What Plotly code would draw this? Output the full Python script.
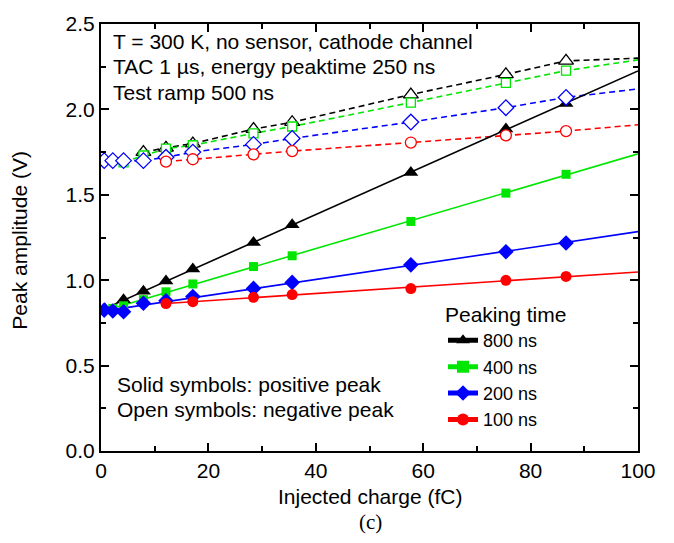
import numpy as np
import plotly.graph_objects as go

# ---------------- data ----------------
x_800 = [0.75, 4.2, 7.9, 12.1, 17.1, 28.4, 35.6, 57.7, 75.4, 86.6]
pos_800 = [0.83, 0.885, 0.935, 0.995, 1.065, 1.22, 1.325, 1.63, 1.885, 2.035]
xn_800 = [7.9, 12.1, 17.1, 28.4, 35.6, 57.7, 75.4, 86.6]
neg_800 = [1.75, 1.775, 1.80, 1.885, 1.925, 2.087, 2.205, 2.284]
neg_800_end = 2.30

x_400 = [2.2, 4.2, 7.9, 12.1, 17.1, 28.4, 35.6, 57.7, 75.4, 86.6]
pos_400 = [0.835, 0.85, 0.886, 0.932, 0.978, 1.08, 1.143, 1.344, 1.51, 1.62]
xn_400 = [4.2, 7.9, 12.1, 17.1, 28.4, 35.6, 57.7, 75.4, 86.6]
neg_400 = [1.69, 1.73, 1.77, 1.79, 1.86, 1.90, 2.04, 2.155, 2.227]
neg_400_end = 2.29

x_200 = [0.6, 2.2, 4.2, 7.9, 12.1, 17.1, 28.4, 35.6, 57.7, 75.4, 86.6]
pos_200 = [0.825, 0.82, 0.815, 0.865, 0.88, 0.905, 0.952, 0.987, 1.09, 1.167, 1.218]
xn_200 = x_200
neg_200 = [1.70, 1.70, 1.70, 1.70, 1.72, 1.75, 1.795, 1.83, 1.926, 2.01, 2.07]
neg_200_end = 2.12

x_100 = [12.1, 17.1, 28.4, 35.6, 57.7, 75.4, 86.6]
pos_100 = [0.863, 0.874, 0.90, 0.916, 0.951, 0.999, 1.022]
xn_100 = x_100
neg_100 = [1.694, 1.708, 1.737, 1.756, 1.806, 1.848, 1.873]
neg_100_end = 1.91

labels = ["800 ns", "400 ns", "200 ns", "100 ns"]
colors = ["#000000", "#00e600", "#0000ff", "#ff0000"]
symbols = ["triangle-up", "square", "diamond", "circle"]
msizes = [13, 9, 12, 11]

x_ticks = [0, 20, 40, 60, 80, 100]
y_ticks = [0.0, 0.5, 1.0, 1.5, 2.0, 2.5]
X_MAX = 100

series = [
    (x_800, pos_800, xn_800, neg_800, neg_800_end),
    (x_400, pos_400, xn_400, neg_400, neg_400_end),
    (x_200, pos_200, xn_200, neg_200, neg_200_end),
    (x_100, pos_100, xn_100, neg_100, neg_100_end),
]

FONT = "Liberation Sans, Arial, sans-serif"
FS = 21
fig = go.Figure()

# dashed lines (negative peak) and solid fit lines
for (xp, yp, xn, yn, yend), col in zip(series, colors):
    fig.add_trace(go.Scatter(x=list(xn) + [X_MAX], y=list(yn) + [yend], mode="lines",
                             line=dict(color=col, width=1.6, dash="6px,4px"),
                             showlegend=False, hoverinfo="skip"))
for (xp, yp, xn, yn, yend), col in zip(series, colors):
    k, b = np.polyfit(xp, yp, 1)
    x0 = 0 if xp[0] < 5 else xp[0]
    xs = np.array([x0, X_MAX])
    fig.add_trace(go.Scatter(x=xs, y=k * xs + b, mode="lines",
                             line=dict(color=col, width=1.6),
                             showlegend=False, hoverinfo="skip"))
# markers
for (xp, yp, xn, yn, yend), col, sym, ms in zip(series, colors, symbols, msizes):
    fig.add_trace(go.Scatter(x=xn, y=yn, mode="markers",
                             marker=dict(symbol=sym, size=ms, color="white",
                                         line=dict(color=col, width=1.3)),
                             showlegend=False))
    fig.add_trace(go.Scatter(x=xp, y=yp, mode="markers",
                             marker=dict(symbol=sym, size=ms, color=col,
                                         line=dict(color=col, width=0)),
                             showlegend=False))
# legend entries
for lab, col, sym, ms in zip(labels, colors, symbols, msizes):
    fig.add_trace(go.Scatter(x=[None], y=[None], mode="lines+markers", name=lab,
                             line=dict(color=col, width=1.6),
                             marker=dict(symbol=sym, size=ms, color=col)))

axis_common = dict(showline=True, linecolor="black", linewidth=2, mirror="ticks",
                   ticks="inside", ticklen=8, tickwidth=1.5, tickcolor="black",
                   showgrid=False, zeroline=False,
                   tickfont=dict(family=FONT, size=FS, color="black"))

fig.update_xaxes(range=[0, 100], tickvals=x_ticks, ticktext=[str(v) for v in x_ticks],
                 minor=dict(dtick=10, ticks="inside", ticklen=5, tickwidth=1.5, tickcolor="black"),
                 **axis_common)
fig.update_yaxes(range=[0, 2.5], tickvals=y_ticks, ticktext=[f"{v:.1f}" for v in y_ticks],
                 minor=dict(dtick=0.25, ticks="inside", ticklen=5, tickwidth=1.5, tickcolor="black"),
                 **axis_common)

def py(p):  # pixel row -> paper y
    return (450.8 - p) / 434.0

def px(p):  # pixel column -> paper x
    return (p - 101) / 537.0

ann = []
for txt, yy in [("T = 300 K, no sensor, cathode channel", 35),
                ("TAC 1 µs, energy peaktime 250 ns", 60.5),
                ("Test ramp 500 ns", 86),
                ("Solid symbols: positive peak", 383),
                ("Open symbols: negative peak", 409)]:
    xx = 111 if yy < 200 else 115
    ann.append(dict(text=txt, xref="paper", yref="paper", x=px(xx), y=py(yy),
                    xanchor="left", yanchor="middle", showarrow=False,
                    font=dict(family=FONT, size=FS, color="black")))
ann.append(dict(text="Injected charge (fC)", xref="paper", yref="paper", x=px(370), y=py(497),
                xanchor="center", yanchor="middle", showarrow=False,
                font=dict(family=FONT, size=FS, color="black")))
ann.append(dict(text="(c)", xref="paper", yref="paper", x=px(370), y=py(523),
                xanchor="center", yanchor="middle", showarrow=False,
                font=dict(family="Liberation Serif, Times New Roman, serif", size=21, color="black")))
ann.append(dict(text="Peak amplitude (V)", xref="paper", yref="paper", x=px(20), y=py(237),
                xanchor="center", yanchor="middle", textangle=-90, showarrow=False,
                font=dict(family=FONT, size=FS, color="black")))

fig.update_layout(
    width=674, height=543,
    margin=dict(l=101, r=36, t=17, b=92),
    paper_bgcolor="white", plot_bgcolor="white",
    annotations=ann,
    showlegend=True,
    legend=dict(x=px(443), y=py(292), xanchor="left", yanchor="top",
                bgcolor="rgba(0,0,0,0)", borderwidth=0,
                title=dict(text="Peaking time", font=dict(family=FONT, size=FS, color="black")),
                font=dict(family=FONT, size=18, color="black"),
                tracegroupgap=0, itemsizing="constant"),
)

fig.write_html("out.html")
